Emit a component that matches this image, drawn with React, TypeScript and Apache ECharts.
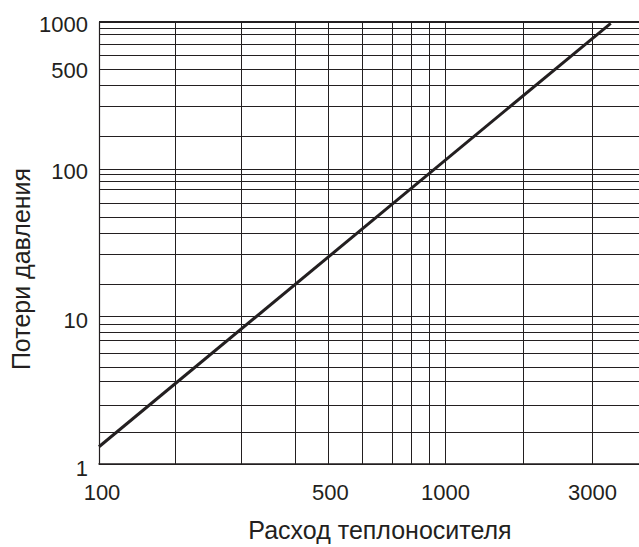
import React, { useEffect, useRef } from 'react';
import * as echarts from 'echarts';

// Curve: pressure loss vs heat-carrier flow (straight line on log-log paper)
const flowValues = [100, 3000];
const lossValues = [1.31, 980];

// Grid lines of the chart paper (data units)
const xGridValues = [100, 166, 257, 368, 459, 577, 703, 799, 897, 1000, 1682, 2658];
const yGridValues = [
  1, 1.65, 2.52, 3.65, 4.53, 5.65, 6.95, 7.89, 8.89,
  10, 16.6, 26.7, 37.1, 47.2, 58.9, 72.7, 83.5, 92.3,
  100, 168, 266, 375, 477, 598, 709, 828, 912, 1000,
];

// Tick labels placed on the paper's lines
const xLabelValues = [100, 459, 1000, 2658];
const xLabelTexts = ['100', '500', '1000', '3000'];
const yLabelValues = [1, 10, 100, 477, 1000];
const yLabelTexts = ['1', '10', '100', '500', '1000'];

const xTitle = 'Расход теплоносителя';
const yTitle = 'Потери давления';

const INK = '#231f20';
const FONT = '"Liberation Sans", Arial, Helvetica, sans-serif';

// small label nudges (pixels), styling only
const xLabelNudge: Record<string, number> = { '100': 3, '500': 2, '1000': 0, '3000': 0 };
const yLabelNudge: Record<string, number> = { '1': 4, '10': 4, '100': 2, '500': 1, '1000': 2 };

export default function App() {
  const ref = useRef<HTMLDivElement>(null);

  useEffect(() => {
    if (!ref.current) return;
    const chart = echarts.init(ref.current, undefined, { renderer: 'svg' });

    const labelStyle = { color: INK, fontFamily: FONT, fontSize: 22 };

    const xLines = xGridValues.map((v) => {
      const i = xLabelValues.indexOf(v);
      const item: any = { xAxis: v };
      if (i >= 0) {
        const t = xLabelTexts[i];
        item.label = {
          show: true,
          position: 'start',
          distance: 17,
          offset: [xLabelNudge[t] || 0, 0],
          formatter: t,
          ...labelStyle,
        };
      }
      return item;
    });

    const yLines = yGridValues.map((v) => {
      const i = yLabelValues.indexOf(v);
      const item: any = { yAxis: v };
      if (v === 1000) item.lineStyle = { width: 2 };
      if (i >= 0) {
        const t = yLabelTexts[i];
        item.label = {
          show: true,
          position: 'start',
          distance: 11,
          offset: [0, yLabelNudge[t] || 0],
          formatter: t,
          ...labelStyle,
        };
      }
      return item;
    });

    chart.setOption({
      animation: false,
      backgroundColor: '#ffffff',
      grid: { left: 92, right: 0, top: 22, bottom: 77, containLabel: false },
      xAxis: {
        type: 'log',
        logBase: 10,
        min: 100,
        max: 3620,
        name: xTitle,
        nameLocation: 'middle',
        nameGap: 53,
        nameTextStyle: { color: INK, fontFamily: FONT, fontSize: 25, padding: [0, 0, 0, 22] },
        axisLine: { show: true, lineStyle: { color: INK, width: 1.5 } },
        axisTick: { show: false },
        axisLabel: { show: false },
        splitLine: { show: false },
      },
      yAxis: {
        type: 'log',
        logBase: 10,
        min: 1,
        max: 1000,
        name: yTitle,
        nameLocation: 'middle',
        nameGap: 66,
        nameTextStyle: { color: INK, fontFamily: FONT, fontSize: 25, padding: [0, 52, 0, 0] },
        axisLine: { show: true, lineStyle: { color: INK, width: 1.2 } },
        axisTick: { show: false },
        axisLabel: { show: false },
        splitLine: { show: false },
      },
      series: [
        {
          type: 'line',
          z: 1,
          data: [],
          silent: true,
          markLine: {
            z: 1,
            silent: true,
            symbol: ['none', 'none'],
            animation: false,
            label: { show: false },
            emphasis: { disabled: true },
            lineStyle: { color: INK, width: 1, type: 'solid' },
            data: [...xLines, ...yLines],
          },
        },
        {
          type: 'line',
          z: 10,
          silent: true,
          showSymbol: false,
          symbol: 'none',
          data: flowValues.map((f, i) => [f, lossValues[i]]),
          lineStyle: { color: INK, width: 3 },
        },
      ],
    });

    return () => chart.dispose();
  }, []);

  return (
    <div
      ref={ref}
      style={{ position: 'absolute', left: 0, top: 0, width: 639, height: 547 }}
    />
  );
}
